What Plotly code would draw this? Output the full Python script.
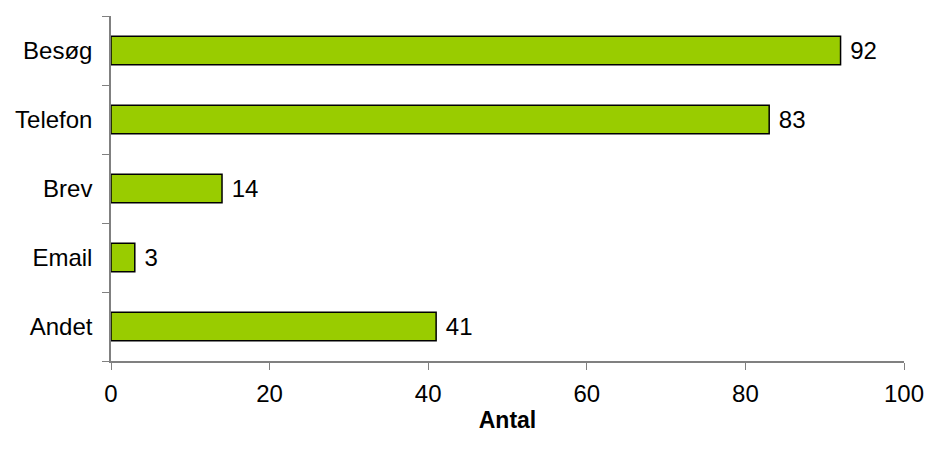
import plotly.graph_objects as go

categories = ["Besøg", "Telefon", "Brev", "Email", "Andet"]
values = [92, 83, 14, 3, 41]
x_ticks = [0, 20, 40, 60, 80, 100]

FONT = "Liberation Sans, Arial, sans-serif"

fig = go.Figure(
    go.Bar(
        x=values,
        y=categories,
        orientation="h",
        width=0.41,
        marker=dict(color="#99CC00", line=dict(color="black", width=1.5)),
        text=[" " + str(v) for v in values],
        textposition="outside",
        textfont=dict(family=FONT, size=24, color="black"),
        cliponaxis=False,
    )
)

fig.update_layout(
    width=928,
    height=454,
    margin=dict(l=111, r=24, t=16, b=93),
    plot_bgcolor="white",
    paper_bgcolor="white",
    showlegend=False,
    font=dict(family=FONT, size=24, color="black"),
)

fig.update_xaxes(
    range=[0, 100],
    tickvals=x_ticks,
    ticks="outside",
    ticklen=7,
    tickcolor="#808080",
    tickfont=dict(family=FONT, size=24),
    ticklabelstandoff=3,
    showline=True,
    linecolor="#808080",
    linewidth=1.5,
    showgrid=False,
    zeroline=False,
    automargin=False,
    title=dict(text="<b>Antal</b>", font=dict(family=FONT, size=23), standoff=6),
)

fig.update_yaxes(
    categoryorder="array",
    categoryarray=categories[::-1],
    range=[-0.5, 4.5],
    tickson="boundaries",
    ticks="outside",
    ticklen=7,
    tickcolor="#808080",
    tickfont=dict(family=FONT, size=24),
    showline=True,
    linecolor="#808080",
    linewidth=1.5,
    showgrid=False,
    zeroline=False,
    automargin=False,
    ticklabelstandoff=12,
)

# drop the default page margin so the figure fills the window exactly
fig.write_html(
    "out.html",
    config={"displayModeBar": False},
    post_script="document.body.style.margin='0';document.body.style.overflow='hidden';",
)
